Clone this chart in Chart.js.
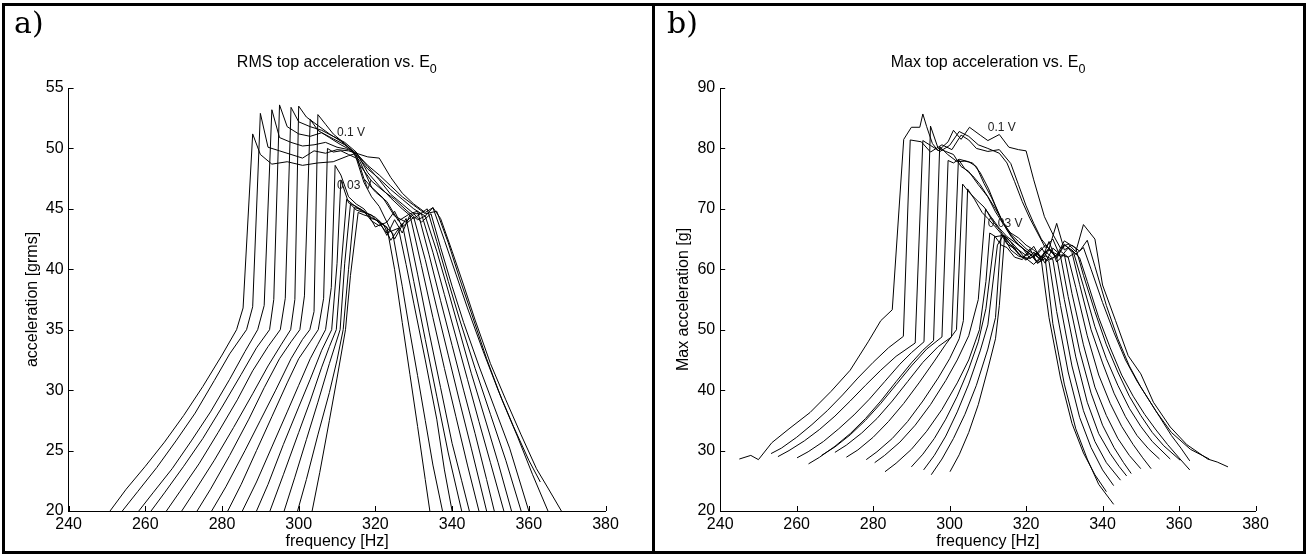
<!DOCTYPE html>
<html>
<head>
<meta charset="utf-8">
<title>Top acceleration vs. E0</title>
<script src="https://cdn.jsdelivr.net/npm/chart.js@4.4.1/dist/chart.umd.min.js"></script>
<style>
  body { margin: 0; background: #fff; width: 1309px; height: 557px; overflow: hidden;
         font-family: "Liberation Sans", Arial, sans-serif; }
  .panel { position: absolute; top: 3px; height: 545px; border: 3px solid #000; background: #fff; }
  #panelA { left: 2px; width: 647px; }
  #panelB { left: 652px; width: 648px; }
  .panel canvas { position: absolute; left: 0; top: 0; }
  .tag { position: absolute; top: 0; font: 30px/34px "DejaVu Serif", serif; color: #000; }
  .title { position: absolute; top: 47px; font-size: 16px; line-height: 18px; text-align: center;
           white-space: nowrap; color: #000; }
  .title span { font-size: 12.5px; position: relative; top: 6px; }
</style>
</head>
<body>
<div class="panel" id="panelA">
  <canvas id="rmsChart" width="647" height="545"></canvas>
  <div class="tag" style="left:9px">a)</div>
  <div class="title" style="left:63.6px; width:536.4px">RMS top acceleration vs. E<span>0</span></div>
</div>
<div class="panel" id="panelB">
  <canvas id="maxChart" width="648" height="545"></canvas>
  <div class="tag" style="left:12px">b)</div>
  <div class="title" style="left:65.2px; width:535.8px">Max top acceleration vs. E<span>0</span></div>
</div>

<script>
// tick labels
const freqTicks = [240, 260, 280, 300, 320, 340, 360, 380];
const rmsTicks = [20, 25, 30, 35, 40, 45, 50, 55];
const maxTicks = [20, 30, 40, 50, 60, 70, 80, 90];

// excitation level notes, placed at a frequency
const noteText = ['0.1 V', '0.03 V'];
const noteFreq = [310, 310];
const rmsNoteAcc = [51.3, 46.9];
const maxNoteAcc = [83.5, 67.5];

// a) RMS top acceleration, one sweep per excitation level: [frequency Hz, grms]
const rmsCurves = [
  [[250.8,20],[255,21.8],[260,23.7],[265,25.7],[270,27.9],[275,30.3],[280,32.9],[283.8,35],[285.5,36.8],[288,51.2],[290,49.5],[293,48.7],[297,48.9],[301,48.6],[305,48.8],[309,48.9],[313,49.4],[315,49.6],[318,49.3],[321,49.2],[324,47.6],[327,46.3],[330,45.4],[333,44.7],[335,45.1],[337,44.2],[340,41.5],[343,38.7],[346,35.8],[350,32.2],[354,29.2],[358,26.3],[362,23.5],[365,21.9],[368.5,20]],
  [[254,20],[258,21.6],[263,23.6],[268,25.8],[273,28.1],[278,30.8],[282,33],[286.4,35],[288,36.9],[290,52.9],[292,50.1],[295,49.8],[298,49.5],[301,49.2],[304,49.8],[307,49.6],[310,49.9],[313,49.8],[315,49.6],[318,48.6],[321,47.8],[324,46.9],[327,46],[330,45.3],[333,44.6],[336,44.8],[339,42.2],[342,39.2],[345,36.4],[349,32.6],[353,29.2],[357,26.2],[361,23],[365,20]],
  [[258.3,20],[262,21.5],[267,23.5],[272,25.8],[277,28.2],[282,30.9],[286,33.2],[289.3,35],[291,37],[293,53.2],[295,50.9],[298,50.5],[301,50.2],[304,50.3],[307,50.5],[310,50.1],[313,49.9],[315,49.5],[318,48.3],[321,47.5],[324,46.6],[327,45.8],[330,45],[333,44.4],[335,45.1],[338,42.4],[341,39.6],[344,36.8],[348,33.3],[352,30],[356,27],[360,24.2],[363,22.4]],
  [[261.5,20],[265,21.5],[270,23.7],[275,26],[280,28.6],[285,31.3],[289,33.5],[292.4,35],[293.5,37.5],[295,53.6],[297,51.8],[300,51.2],[303,51],[306,51.3],[309,50.8],[312,50.3],[315,49.6],[318,48.5],[321,47.4],[324,46.2],[327,45.4],[330,44.6],[332,43.9],[334.5,44.6],[337,41.8],[340,38.6],[343,35.6],[347,32],[351,28.6],[355,25.2],[360,20]],
  [[265.5,20],[269,21.6],[274,23.9],[279,26.5],[284,29.2],[288,31.6],[292,33.6],[295.2,35],[296.5,37.6],[298,53.4],[300,52.2],[303,51.8],[306,51.5],[309,51],[312,50.5],[315,49.7],[318,48],[321,46.9],[324,45.9],[327,45],[330,44.2],[333.5,45],[336,42.3],[339,39],[342,35.8],[346,31.8],[350,28],[354,24.2],[358,20]],
  [[269.5,20],[273,21.7],[278,24.2],[283,26.9],[288,29.7],[292,32],[295.5,33.8],[297.9,35],[299,37.5],[300,53.5],[302,52.6],[305,51.9],[308,51.2],[311,50.6],[314,49.8],[316,48.6],[319,47.3],[322,46.5],[325,45.8],[328,44.9],[331,44.1],[333,44.4],[336,41.5],[339,38.2],[342,34.8],[345,31.4],[349,27.2],[352,24],[355.5,20]],
  [[273.5,20],[277,21.8],[282,24.6],[287,27.6],[291,30.2],[295,32.6],[298,34],[300.3,35],[301.5,37.8],[303,52.4],[305,51.5],[308,50.9],[311,50.3],[314,49.8],[316,48.9],[319,46.8],[322,45.9],[325,44.4],[328,43.9],[330,44.6],[332,44.6],[335,41.4],[338,37.9],[341,34.4],[344,30.9],[347,27.4],[350,24],[353.5,20]],
  [[277.3,20],[281,22],[286,25],[290,27.5],[294,30],[298,32.6],[301,34.2],[302.9,35],[304,36.5],[305,52.8],[307,52],[309,51.2],[312,50.4],[315,49.5],[317,47.5],[320,46.4],[323,45.6],[326,44],[329,44.6],[331,44.8],[334,41.2],[337,37.4],[340,33.7],[343,30],[346,26.4],[349,22.6],[351,20]],
  [[281.5,20],[285,22.2],[289,25],[293,27.8],[297,30.6],[300,32.6],[303,34],[305.1,35],[306.5,37.6],[307.5,50],[309,49.7],[311,49.8],[313,49.5],[315,49.2],[317,47.2],[319,46],[321,45.2],[323,43.9],[325,44.8],[327,43.5],[330,44.3],[333,40.8],[336,36.8],[339,32.9],[342,29],[345,25.2],[349,20]],
  [[285.3,20],[289,22.4],[293,25.3],[297,28.2],[300,30.4],[303,32.6],[305,33.8],[307,35],[308.5,38.5],[309.5,48.6],[311,47.8],[313,46],[315,45.4],[317,45],[319,44.2],[321,44],[323,42.8],[325,44.1],[327,43],[329,44.5],[332,40.3],[335,36],[338,31.8],[341,27.8],[344,23.8],[347,20]],
  [[289,20],[292,22.2],[296,25.5],[300,28.6],[303,30.9],[306,33.3],[308.6,35],[310,40.5],[311,47.4],[313,45.5],[315,45.2],[317,44.8],[319,44],[321,43.6],[323,43.9],[325,42.5],[328,44.2],[331,39.6],[334,34.8],[337,30.2],[340,25.6],[342.5,22.5],[344.5,20]],
  [[292.5,20],[296,23],[300,26.5],[303,29.1],[306,31.9],[308,33.6],[309.8,35],[311,40],[312.5,45.8],[314,45.4],[316,44.9],[318,44.6],[320,43.5],[322,43.8],[324,42.4],[327,43.8],[330,39],[333,34.2],[336,29.5],[339,24.8],[342.5,20]],
  [[296.2,20],[299,22.8],[302,25.9],[305,29],[308,32.2],[310.8,35],[312,40.5],[313.5,45.4],[315,44.9],[317,44.7],[319,44.5],[321,43.8],[323,43],[326,43.4],[328,40.4],[330,37.2],[333,32.5],[336,27.6],[338,23.4],[340,20]],
  [[299.7,20],[302,22.6],[305,26.3],[308,29.8],[310,32.5],[311.6,35],[313,40],[314.5,45.1],[316,45],[318,44.6],[320,44.3],[322,43.7],[324.5,43],[327,38.6],[329,34.8],[331,31.2],[333,27.5],[335,23.8],[337.5,20]],
  [[303.5,20],[305.5,23.2],[308,27.5],[310,31],[312.2,35],[313.5,39.5],[315.5,44.7],[317,44.5],[319,44.3],[321,43.9],[323,43.5],[325,40],[327,35.6],[329,31.3],[331,27],[333,22.6],[334.2,20]]
];

// b) Max top acceleration, same sweeps: [frequency Hz, g]
const maxCurves = [
  [[245,28.6],[248,29.2],[250,28.5],[253.5,31.3],[258,33.6],[263.5,36.3],[269,39.8],[274,43.3],[278.7,48],[282,51.5],[285,53.3],[288,81.5],[290,83.5],[292.2,83.5],[293,85.7],[294,83.6],[295.5,80.8],[297,79.6],[299.6,81.1],[301,83],[303,81.5],[305.2,83.5],[308,82.2],[310,81.3],[313,82.3],[315.5,80.2],[318,79.8],[320,79.6],[322,74.8],[324.8,68.7],[327,65.8],[329,63.5],[331,64.2],[333,62.9],[335,67.4],[338,65],[340,57.4],[343.4,51.5],[346.7,45.7],[350,42.7],[353.3,38],[357.7,33.9],[362,31],[367.5,28.6],[370,28.1],[372.8,27.3]],
  [[253.3,29.5],[256,30.4],[260,32.2],[264,34.3],[268,36.6],[272,39.2],[276,42],[280,44.6],[284,47],[287.9,48.9],[289.7,81.4],[292.6,81.1],[295,79.4],[298,80.6],[300.6,79.8],[303,82.2],[305,81.4],[307,80],[310,79.5],[313,79.8],[316,77.5],[318,74],[320,70.5],[322,67.6],[324,65],[326,63.4],[328,67.6],[330,63.2],[332,64],[334,63],[336,64.8],[338,60.5],[341,54],[344,48.5],[347,44],[350,40.5],[354,36.5],[358,33],[363,30.2],[367.9,28.6]],
  [[255.1,29],[258,30],[262,31.6],[266,33.5],[270,35.7],[274,38.2],[278,40.8],[282,43.3],[286,45.6],[291,47.8],[293,81.3],[295,80.5],[297.5,79.5],[300,80.5],[302.5,82.8],[305,82],[307.5,80.6],[310,80],[313,79.2],[315,77.6],[317,74.5],[319,71.2],[321,68.4],[323,66],[325,63.6],[327,65],[329,62],[331,63.5],[333,62.5],[335,63.6],[337,60],[340,54.5],[343,49.5],[346,45],[349,41.5],[352,38.5],[355,35.5],[358,32.5],[360.5,30.4],[362.8,28.3]],
  [[260.1,28.8],[263,29.8],[267,31.5],[271,33.6],[275,35.9],[279,38.5],[283,41.4],[287,44.3],[290,46.2],[293.3,48],[295,83.7],[297,80],[299,79.5],[301,79],[303,77],[305,76.2],[307.5,74],[310,72],[312,69.5],[314,67.5],[316,66],[318,65.2],[320,64],[322,63.2],[324,62],[326,63.5],[328,61.8],[330,64],[332,63.2],[334,61.9],[336,58],[339,52],[342,47],[345,42.5],[348,39],[351,36],[354,33.4],[357,31],[360,28.8],[362.8,26.8]],
  [[263.1,27.8],[266,28.9],[270,30.7],[274,32.8],[278,35.3],[282,38.2],[286,41.4],[290,44.5],[293,46.6],[295.8,48.2],[297.4,80.3],[299.5,79],[302,77.8],[304,77.9],[306,77.6],[308,76],[310.2,73.3],[312,70.5],[314,67.6],[316,65.5],[318,64],[320,63],[322,62],[324,63.6],[326,61.5],[328,62.3],[330,64.7],[333,63.5],[335,59],[338,53],[341,47.5],[344,43],[347,39],[350,35.8],[353,33],[356,30.8],[360.3,28.4]],
  [[266.5,29.2],[270,30.6],[274,32.6],[278,35],[282,37.8],[286,40.9],[290,44],[294,46.8],[298,48.8],[299.6,78],[301,77.6],[302.5,78.2],[305,77.8],[307,77],[309,74.2],[311,71.8],[313,69],[315,66.5],[317,64.8],[319,63.5],[321,62.6],[323,61.2],[325,63],[327,61.8],[329,63],[331,62],[332.5,62.6],[335,57.2],[338,50.5],[341,45.2],[344,40.8],[347,37],[350,34],[353,31.5],[357.7,28.6]],
  [[270,29.7],[273,30.9],[277,32.9],[281,35.3],[285,38.2],[289,41.4],[293,44.6],[297,47.2],[300.5,48.8],[302.3,78.2],[304,76.6],[306,75.5],[308,74],[310,72],[312,70],[314,67.8],[316,65.8],[318,64.6],[320,63.4],[322,62.5],[324,61.5],[326,63.2],[328,62],[330,64.2],[332,62.8],[334,57.5],[337,50],[340,44.5],[343,39.5],[346,35.6],[349,32.5],[352,30.3],[354.9,28.6]],
  [[273,28.9],[276,30.1],[280,32.2],[284,34.8],[288,37.8],[292,41.2],[296,44.8],[299,47.6],[301.8,50],[303.4,74.1],[305,72.8],[307,71.5],[309,70.3],[311,68.5],[313,66.8],[315,65.4],[317,64.5],[319,63.6],[321,61.8],[323,62.8],[325,61],[327,63.5],[329,62.4],[331,62],[333,57],[336,49],[339,42.5],[342,37.8],[345,34],[348,31],[350.5,28.8],[352.7,27]],
  [[278.2,28.5],[281,29.8],[285,32],[289,34.8],[293,38.2],[297,42],[300,45.2],[302.5,48.5],[303.6,51.5],[304.7,73.3],[306.5,71.6],[308.5,69.4],[310,68.4],[312,67],[314,65.5],[316,64],[318,63.2],[320,62.3],[322,63.8],[324,61.5],[326,64.6],[328,61.2],[330,62.5],[332,56],[335,47.5],[338,40.5],[341,35.8],[344,32],[347,29.2],[350,27]],
  [[280.4,28],[283,29.2],[287,31.4],[291,34.2],[295,37.6],[299,41.6],[302,45],[305,49],[307.5,55],[309.4,70],[311,68.2],[313,66.6],[315,64.8],[317,63.2],[319,62],[321,61.8],[323,62.5],[325,64],[327,62.8],[329,62.2],[331,55.5],[334,46.5],[337,39.5],[340,34.2],[343,30.5],[345.5,28],[347.5,26.2]],
  [[283.1,26.5],[286,27.9],[290,30.2],[294,33.2],[298,36.8],[302,41.2],[305,45],[307.8,50],[309.5,58],[310.5,66],[312,65.4],[314,65.6],[316,64.6],[318,63.2],[320,61.6],[322,62.8],[324,62],[326,63.4],[328,62],[330,55],[333,45.5],[336,38],[339,32.8],[342,29.5],[344.3,27.4],[346.3,25.8]],
  [[290,27.3],[293,29.4],[296,32],[299,35.2],[302,39],[305,43.5],[307.5,48],[309.5,53.5],[311.8,65.5],[313.5,64],[315,63.6],[317,62],[319,61.6],[321,63.4],[323,61],[325,62.2],[327,61.6],[329,54],[332,44],[335,36.6],[338,31.5],[341,28],[344.7,25.1]],
  [[293.2,26.8],[296,29.2],[299,32.4],[302,36.4],[305,41],[308,46.5],[310,50.8],[312.5,64],[314,65.6],[316,63.2],[318,62.2],[320,61.8],[322,60.8],[324,62.2],[326,61.3],[328,53],[331,43],[334,35.5],[337,30.5],[340,26.8],[342.9,24.2]],
  [[295.2,26],[298,28.6],[301,32],[304,36],[307,40.8],[310,46.8],[312,52],[313.5,65.8],[315,64.2],[317,63.4],[319,62],[321,62.6],[323,61],[325,61.8],[327,51],[330,41],[333,33.6],[336,28.6],[339,24.4],[342.9,21.1]],
  [[300.1,26.5],[302.5,29.3],[305,33],[307.5,37.6],[310,43.5],[312,48.5],[313,54],[314.4,65.6],[316,64.5],[318,62.5],[320,61.5],[322,62.8],[324,61.4],[326,52],[329,42],[332,34.5],[335,29.6],[338,26],[341,23.2]]
];

Chart.defaults.font.family = '"Liberation Sans", Arial, sans-serif';
Chart.defaults.font.size = 16;
Chart.defaults.color = '#000';

// MATLAB style tick marks pointing into the plot
const inwardTicks = {
  id: 'inwardTicks',
  afterDatasetsDraw(chart) {
    const { ctx, chartArea: a, scales: { x, y } } = chart;
    ctx.save();
    ctx.strokeStyle = '#000';
    ctx.lineWidth = 1;
    ctx.beginPath();
    x.ticks.forEach(t => {
      const px = Math.round(x.getPixelForValue(t.value)) + 0.5;
      ctx.moveTo(px, a.bottom);
      ctx.lineTo(px, a.bottom - 5);
    });
    y.ticks.forEach(t => {
      const py = Math.round(y.getPixelForValue(t.value)) + 0.5;
      ctx.moveTo(a.left, py);
      ctx.lineTo(a.left + 5, py);
    });
    ctx.stroke();
    ctx.restore();
  }
};

// text notes "0.1 V" / "0.03 V"
const voltNotes = {
  id: 'voltNotes',
  afterDatasetsDraw(chart, args, opts) {
    const { ctx, scales: { x, y } } = chart;
    ctx.save();
    ctx.font = '12px "Liberation Sans", Arial, sans-serif';
    ctx.fillStyle = '#222';
    ctx.textAlign = 'left';
    ctx.textBaseline = 'middle';
    opts.values.forEach((v, i) => {
      ctx.fillText(noteText[i], x.getPixelForValue(noteFreq[i]), y.getPixelForValue(v));
    });
    ctx.restore();
  }
};

function makeChart(id, curves, yTicks, yTitle, axisLeft, titleGap, notes) {
  const ctx = document.getElementById(id).getContext('2d');
  const w = ctx.canvas.width;
  return new Chart(ctx, {
    type: 'line',
    data: {
      datasets: curves.map(c => ({
        data: c.map(p => ({ x: p[0], y: p[1] })),
        borderColor: '#000',
        borderWidth: 1,
        pointRadius: 0,
        fill: false,
        tension: 0
      }))
    },
    options: {
      responsive: false,
      animation: false,
      events: [],
      layout: { padding: { left: 0, top: 82, right: w - 600.5, bottom: 0 } },
      plugins: {
        legend: { display: false },
        tooltip: { enabled: false },
        voltNotes: { values: notes }
      },
      scales: {
        x: {
          type: 'linear',
          min: freqTicks[0],
          max: freqTicks[freqTicks.length - 1],
          afterBuildTicks: s => { s.ticks = freqTicks.map(v => ({ value: v })); },
          afterFit: s => { s.height = 40; },
          grid: { display: false, drawTicks: false },
          border: { display: true, color: '#000', width: 1 },
          ticks: { color: '#000', padding: 4, maxRotation: 0 },
          title: { display: true, text: 'frequency [Hz]', color: '#000', padding: { top: 0, bottom: 0 } }
        },
        y: {
          type: 'linear',
          min: yTicks[0],
          max: yTicks[yTicks.length - 1],
          afterBuildTicks: s => { s.ticks = yTicks.map(v => ({ value: v })); },
          afterFit: s => { s.width = axisLeft; },
          grid: { display: false, drawTicks: false },
          border: { display: true, color: '#000', width: 1 },
          ticks: { color: '#000', padding: 5 },
          title: { display: true, text: yTitle, color: '#000', padding: { top: titleGap, bottom: 0 } }
        }
      }
    },
    plugins: [inwardTicks, voltNotes]
  });
}

makeChart('rmsChart', rmsCurves, rmsTicks, 'acceleration [grms]', 63.6, 18, rmsNoteAcc);
makeChart('maxChart', maxCurves, maxTicks, 'Max acceleration [g]', 65.2, 19, maxNoteAcc);
</script>
</body>
</html>
